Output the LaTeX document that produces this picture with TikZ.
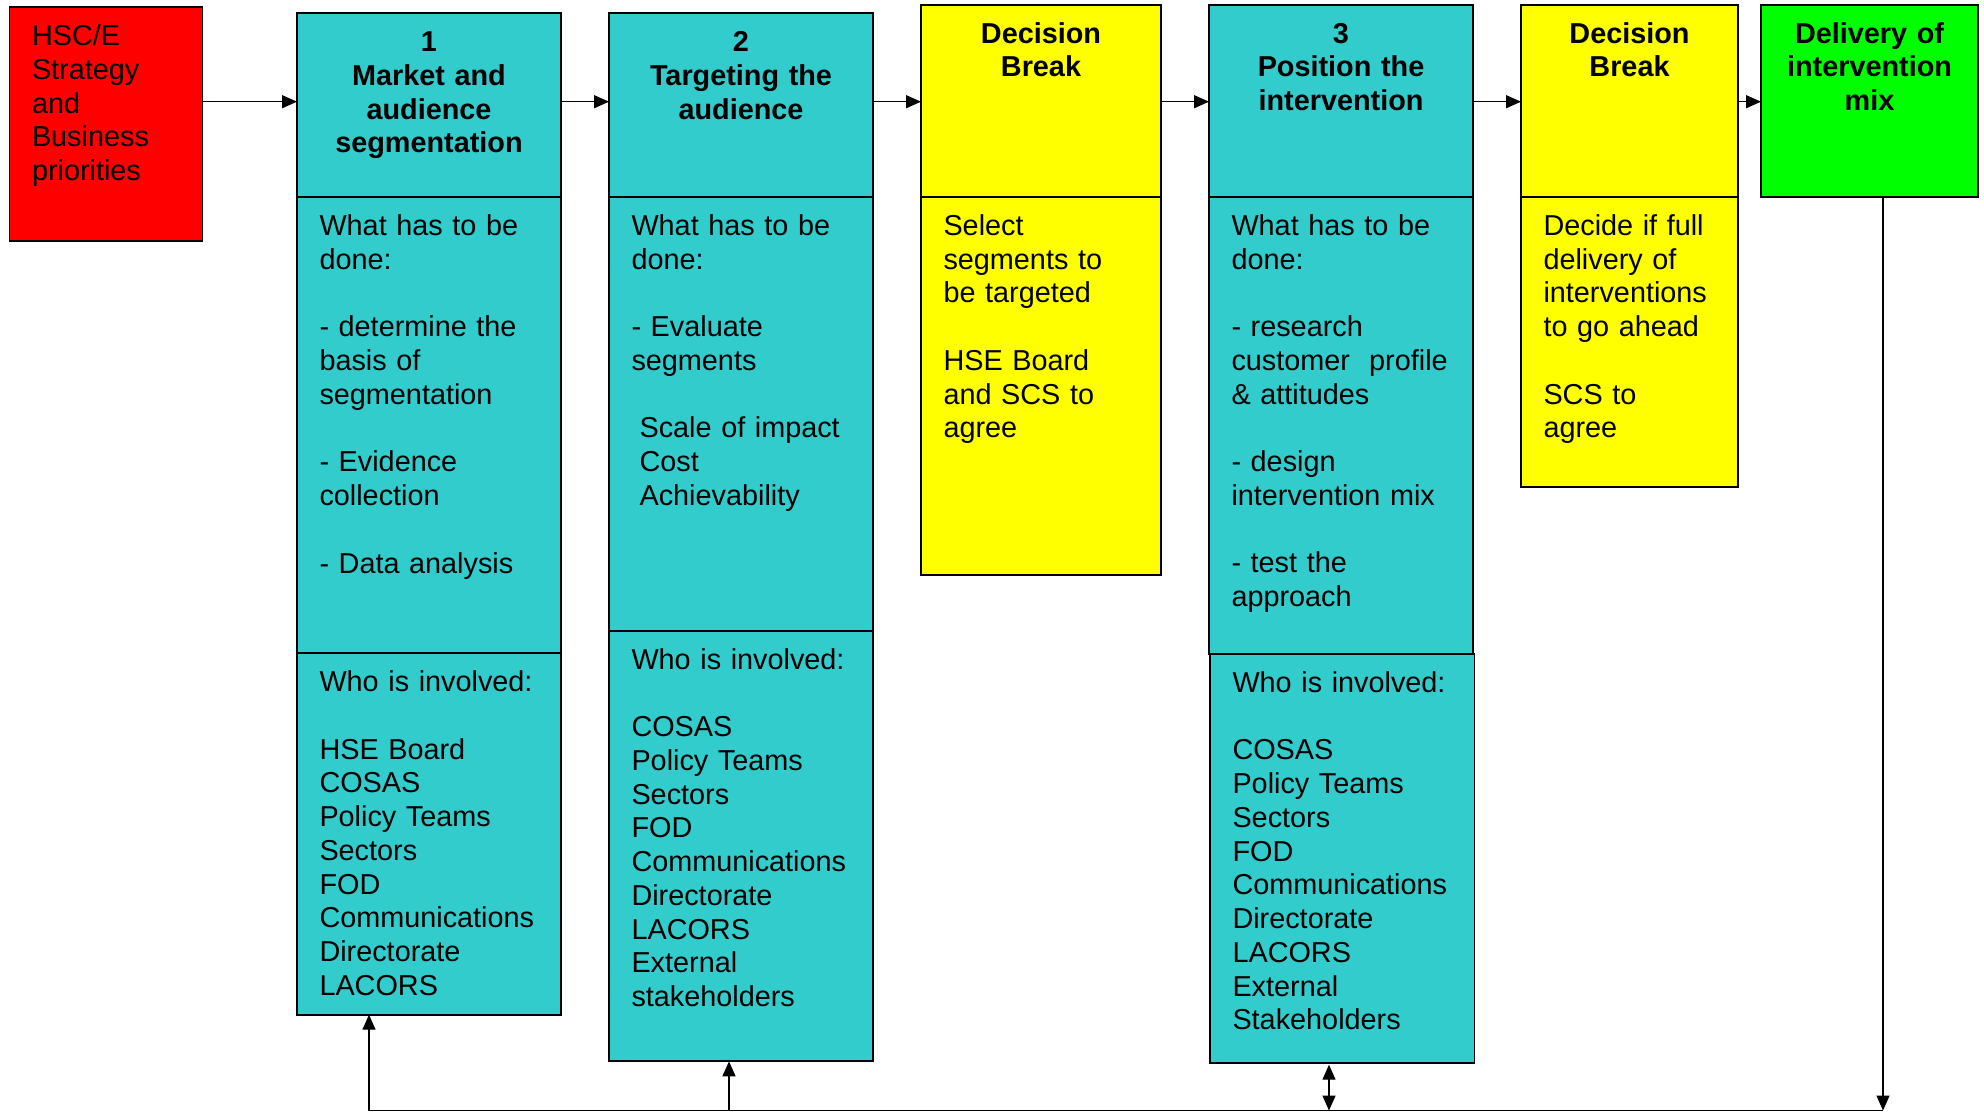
\documentclass[tikz,border=0pt]{standalone}
\usepackage{fontspec}
\setmainfont{Liberation Sans}
\usepackage{xcolor}
\usepackage{tikz}
\usetikzlibrary{calc,arrows.meta}
\definecolor{segteal}{HTML}{33CCCC}
\definecolor{brkyellow}{HTML}{FFFF00}
\definecolor{stratred}{HTML}{FF0000}
\definecolor{delgreen}{HTML}{00FF00}
\newcommand{\cellfont}{\fontsize{16.4}{19.2}\selectfont}
\tikzset{
  cell/.style={draw=black, line width=1.1pt, anchor=north west, outer sep=0pt,
    inner xsep=0.45cm, inner ysep=0pt, text height=0.768cm, align=left, font=\cellfont},
  head/.style={cell, align=center, font=\cellfont\bfseries},
  flow/.style={draw=black, line width=0.8pt, -{Triangle[length=0.3cm,width=0.26cm]}},
  both/.style={flow, {Triangle[length=0.3cm,width=0.26cm]}-{Triangle[length=0.3cm,width=0.26cm]}},
  busline/.style={draw=black, line width=1.1pt}
}
\begin{document}
\begin{tikzpicture}
  \useasboundingbox (0,0) rectangle (39.68,-22.24);
  \coordinate (lvl) at (0,-2.034);
  \coordinate (f1) at (7.38,-22.21);
  \coordinate (f2) at (14.58,-22.21);
  \coordinate (f3) at (26.58,-22.21);
  \coordinate (f4) at (37.66,-22.21);

  \node[cell, fill=stratred, text width=2.96cm, text depth=3.902cm] (strat) at (0.19,-0.146)
    {HSC/E\\Strategy\\and\\Business\\priorities};

  \node[head, fill=segteal, text width=4.38cm, text depth=2.912cm] (h1) at (5.94,-0.266)
    {1\\Market and\\audience\\segmentation};
  \node[cell, fill=segteal, text width=4.38cm, text depth=8.352cm] (w1) at (h1.south west)
    {What has to be\\done:\\[\baselineskip]- determine the\\basis of\\segmentation\\[\baselineskip]%
     - Evidence\\collection\\[\baselineskip]- Data analysis};
  \node[cell, fill=segteal, text width=4.38cm, text depth=6.46cm] (i1) at (w1.south west)
    {Who is involved:\\[\baselineskip]HSE Board\\COSAS\\Policy Teams\\Sectors\\FOD\\%
     Communications\\Directorate\\LACORS};

  \node[head, fill=segteal, text width=4.38cm, text depth=2.906cm] (h2) at (12.18,-0.266)
    {2\\Targeting the\\audience};
  \node[cell, fill=segteal, text width=4.38cm, text depth=7.906cm] (w2) at (h2.south west)
    {What has to be\\done:\\[\baselineskip]- Evaluate\\segments\\[\baselineskip]%
     \hspace*{.28em}Scale of impact\\\hspace*{.28em}Cost\\\hspace*{.28em}Achievability};
  \node[cell, fill=segteal, text width=4.38cm, text depth=7.844cm] (i2) at (w2.south west)
    {Who is involved:\\[\baselineskip]COSAS\\Policy Teams\\Sectors\\FOD\\Communications\\%
     Directorate\\LACORS\\External\\stakeholders};

  \node[head, fill=brkyellow, text width=3.9cm, text depth=3.078cm] (brk1) at (18.42,-0.094)
    {Decision\\Break};
  \node[cell, fill=brkyellow, text width=3.9cm, text depth=6.798cm] (sel1) at (brk1.south west)
    {Select\\segments to\\be targeted\\[\baselineskip]HSE Board\\and SCS to\\agree};

  \node[head, fill=segteal, text width=4.38cm, text depth=3.078cm] (h3) at (24.18,-0.094)
    {3\\Position the\\intervention};
  \node[cell, fill=segteal, text width=4.38cm, text depth=8.372cm] (w3) at (h3.south west)
    {What has to be\\done:\\[\baselineskip]- research\\customer\ \ profile\\\& attitudes\\[\baselineskip]%
     - design\\intervention mix\\[\baselineskip]- test the\\approach};
  \node[cell, fill=segteal, text width=4.39cm, text depth=7.406cm] (i3) at ([xshift=0.02cm]w3.south west)
    {Who is involved:\\[\baselineskip]COSAS\\Policy Teams\\Sectors\\FOD\\Communications\\%
     Directorate\\LACORS\\External\\Stakeholders};

  \node[head, fill=brkyellow, text width=3.44cm, text depth=3.078cm] (brk2) at (30.42,-0.094)
    {Decision\\Break};
  \node[cell, fill=brkyellow, text width=3.44cm, text depth=5.026cm] (sel2) at (brk2.south west)
    {Decide if full\\delivery of\\interventions\\to go ahead\\[\baselineskip]SCS to\\agree};

  \node[head, fill=delgreen, text width=3.44cm, text depth=3.078cm] (deliv) at (35.22,-0.094)
    {Delivery of\\intervention\\mix};

  \draw[flow] (strat.east |- lvl) -- (h1.west |- lvl);
  \draw[flow] (h1.east |- lvl) -- (h2.west |- lvl);
  \draw[flow] (h2.east |- lvl) -- (brk1.west |- lvl);
  \draw[flow] (brk1.east |- lvl) -- (h3.west |- lvl);
  \draw[flow] (h3.east |- lvl) -- (brk2.west |- lvl);
  \draw[flow] (brk2.east |- lvl) -- (deliv.west |- lvl);

  \draw[busline] (f1) -- (f4);
  \draw[flow] (deliv.south -| f4) -- (f4);
  \draw[flow] (f1) -- (f1 |- i1.south);
  \draw[flow] (f2) -- (f2 |- i2.south);
  \draw[both, shorten <=0.04cm] (f3 |- i3.south) -- (f3);
\end{tikzpicture}
\end{document}
